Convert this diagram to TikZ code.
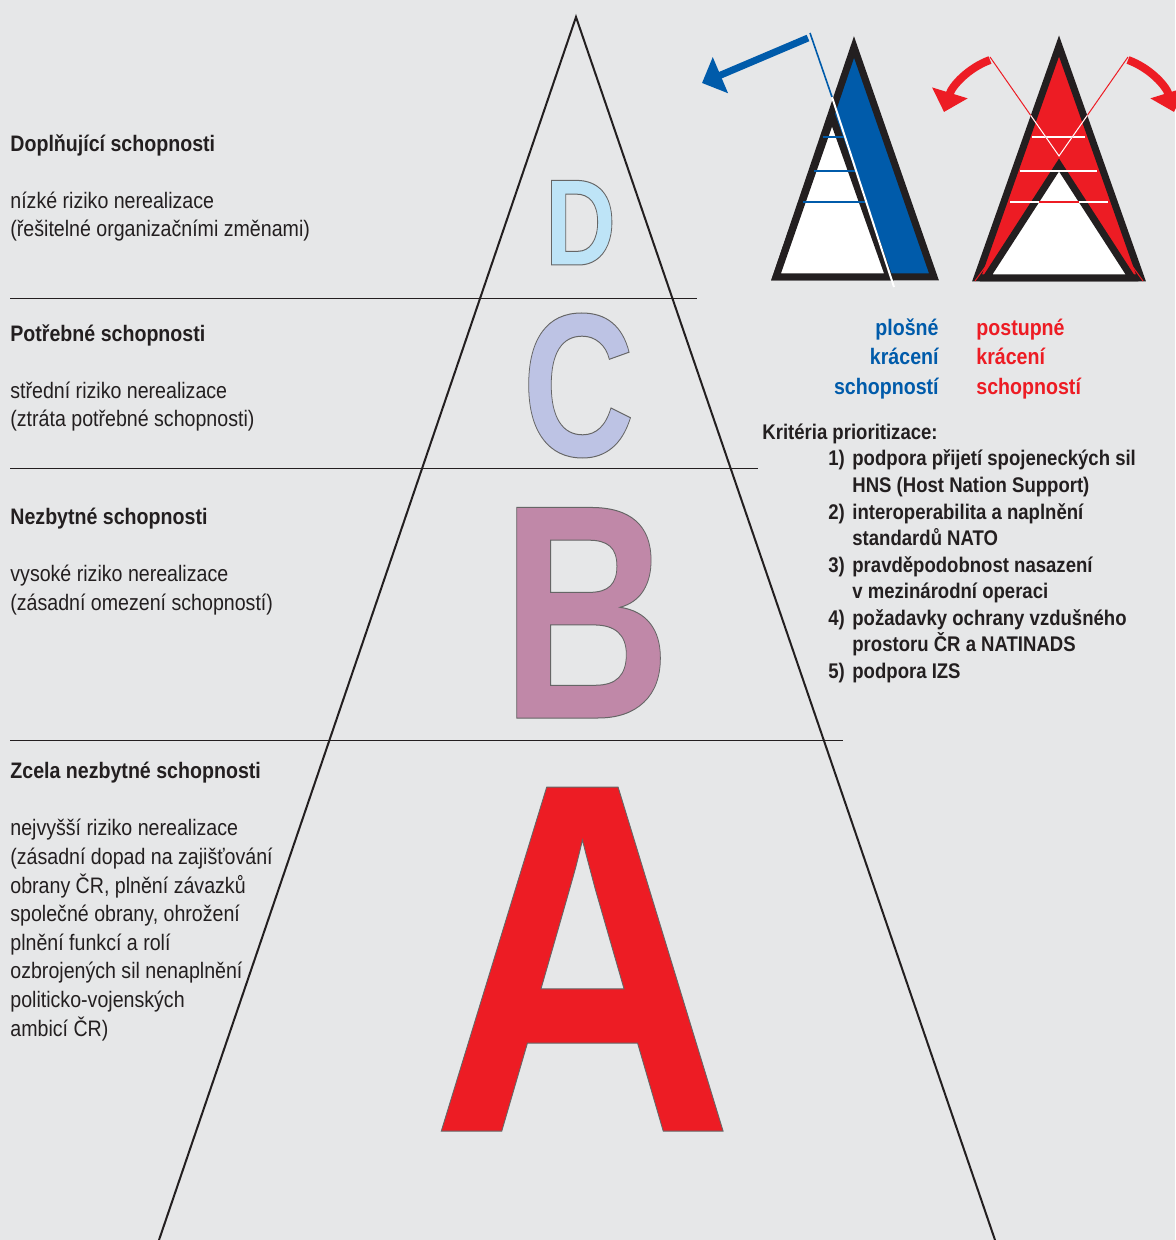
\documentclass[tikz,border=0pt]{standalone}
\usepackage{fontspec}
\setmainfont{Liberation Sans}[FakeStretch=0.875]
\newfontfamily\letterfont{Liberation Sans}
\usepackage{graphicx}
\usetikzlibrary{arrows.meta}
\definecolor{bggray}{RGB}{230, 231, 232}
\definecolor{txtgray}{RGB}{35, 31, 32}
\definecolor{natoblue}{RGB}{0, 91, 170}
\definecolor{czred}{RGB}{237, 28, 36}
\definecolor{letterD}{RGB}{190, 228, 247}
\definecolor{letterC}{RGB}{189, 195, 228}
\definecolor{letterB}{RGB}{192, 136, 168}
% thin grey outline round the big letters (fill + stroke text mode)
\newcommand{\outlined}[1]{\special{pdf:literal direct 2 Tr 0.5 w 0.4 0.4 0.4 RG}#1\special{pdf:literal direct 0 Tr}}

\begin{document}
\begin{tikzpicture}[x=0.5pt, y=-0.5pt,
    textblock/.style={anchor=base west, inner sep=0, align=left, text=txtgray,
      font=\fontsize{11.2pt}{14.3pt}\selectfont},
    critline/.style={anchor=base west, inner sep=0, align=left, text=txtgray,
      font=\bfseries\fontsize{10.6pt}{13.25pt}\selectfont},
    cuttext/.style={inner sep=0, font=\bfseries\fontsize{11.2pt}{14.5pt}\selectfont},
    divider/.style={draw=txtgray, line width=0.5pt},
    pyramid/.style={draw=txtgray, line width=1pt, line join=miter},
    minipyr/.style={draw=txtgray, line width=3.5pt, line join=miter}]
  \fill[bggray] (0,0) rectangle (1175,1240);
  \useasboundingbox (0,0) rectangle (1175,1240);

  % main pyramid
  \coordinate (apex) at (576,17);
  \coordinate (baseL) at (159,1240);
  \coordinate (baseR) at (995,1240);
  \draw[pyramid] (baseL) -- (apex) -- (baseR);
  \draw[divider] (10,299) -- (697,299);
  \draw[divider] (10,468) -- (758,468);
  \draw[divider] (10,740) -- (843,740);

  % big letters
  \foreach \ltr/\x/\y/\sz/\sx/\col in {
      D/580.5/265/61.5/0.80/letterD,
      C/578.5/456/102.4/0.76/letterC,
      B/586/718/153/0.77/letterB,
      A/582.5/1131/250/0.84/czred}{
    \node[anchor=base, inner sep=0, text=\col,
      font=\letterfont\bfseries\fontsize{\sz pt}{\sz pt}\selectfont]
      (let\ltr) at (\x,\y) {\outlined{\scalebox{\sx}[1]{\ltr}}};
  }

  % left descriptions (anchored on the last line)
  \node[textblock] (levD) at (10,237) {\textbf{Doplňující schopnosti}\\[14.3pt]
    nízké riziko nerealizace\\(řešitelné organizačními změnami)};
  \node[textblock] (levC) at (10,427) {\textbf{Potřebné schopnosti}\\[14.3pt]
    střední riziko nerealizace\\(ztráta potřebné schopnosti)};
  \node[textblock] (levB) at (10,610) {\textbf{Nezbytné schopnosti}\\[14.3pt]
    vysoké riziko nerealizace\\(zásadní omezení schopností)};
  \node[textblock] (levA) at (10,1036) {\textbf{Zcela nezbytné schopnosti}\\[14.3pt]
    nejvyšší riziko nerealizace\\(zásadní dopad na zajišťování\\obrany ČR, plnění závazků\\
    společné obrany, ohrožení\\plnění funkcí a rolí\\ozbrojených sil nenaplnění\\
    politicko-vojenských\\ambicí ČR)};

  % blue mini pyramid (flat cut)
  \filldraw[minipyr, fill=natoblue] (776,277) -- (854,47) -- (934,277) -- cycle;
  \filldraw[minipyr, fill=white] (776,277) -- (832,116) -- (889,277) -- cycle;
  \foreach \y/\xa/\xb in {137/823/844, 171/814/855, 202/803/865}
    \draw[natoblue, line width=0.7pt] (\xa,\y) -- (\xb,\y);
  \coordinate (bcutT) at (810,33);
  \coordinate (bcutM) at (832,97);
  \coordinate (bcutB) at (894,287);
  \draw[white, line width=1pt] (bcutM) -- (bcutB);
  \draw[natoblue, line width=0.8pt] (bcutT) -- (bcutM);
  \draw[natoblue, line width=3.5pt, -{Triangle[length=10pt, width=19pt]}] (808,38) -- (702,83);

  % red mini pyramid (gradual cut)
  \coordinate (rapex) at (1059,165);
  \filldraw[minipyr, fill=czred] (977,278) -- (1059,46) -- (1141,278) -- cycle;
  \draw[czred, line width=0.5pt] (975,281) -- (rapex) -- (1143,281);
  \filldraw[minipyr, fill=white] (986,278) -- (rapex) -- (1132,278) -- cycle;
  \foreach \y/\xa/\xb in {137/1032/1085, 171/1020/1097, 202/1010/1108}
    \draw[white, line width=0.7pt] (\xa,\y) -- (\xb,\y);
  \draw[czred, line width=0.7pt] (1039,202) -- (1079,202);
  \coordinate (rvL) at (990,57);
  \coordinate (rvM) at (1059,156);
  \coordinate (rvR) at (1128,57);
  \draw[czred, line width=0.5pt] (rvL) -- (rvM) -- (rvR);
  \begin{scope}
    \clip (973,282) -- (1059,33) -- (1145,282) -- cycle;
    \draw[white, line width=0.5pt] (rvL) -- (rvM) -- (rvR);
  \end{scope}
  \draw[czred, line width=4pt, -{Triangle[length=10pt, width=18pt]}]
    (990,60) .. controls (968,68) and (952,86) .. (944,112);
  \draw[czred, line width=4pt, -{Triangle[length=10pt, width=18pt]}]
    (1128,60) .. controls (1150,68) and (1166,86) .. (1174,112);

  % cut labels
  \node[cuttext, anchor=base east, align=right, text=natoblue] (flatcut) at (939,394)
    {plošné\\krácení\\schopností};
  \node[cuttext, anchor=base west, align=left, text=czred] (gradcut) at (976,394)
    {postupné\\krácení\\schopností};

  % criteria (text nodes anchored on their last line)
  \node[critline] (crithead) at (762,439) {Kritéria prioritizace:};
  \foreach \n/\y/\ylast/\txt in {
      1/466/492.5/{podpora přijetí spojeneckých sil\\HNS (Host Nation Support)},
      2/519/545.5/{interoperabilita a naplnění\\standardů NATO},
      3/572/598.5/{pravděpodobnost nasazení\\v mezinárodní operaci},
      4/625/651.5/{požadavky ochrany vzdušného\\prostoru ČR a NATINADS},
      5/678/678/{podpora IZS}}{
    \node[critline] (num\n) at (828,\y) {\n)};
    \node[critline] (crit\n) at (852,\ylast) {\txt};
  }
\end{tikzpicture}
\end{document}
